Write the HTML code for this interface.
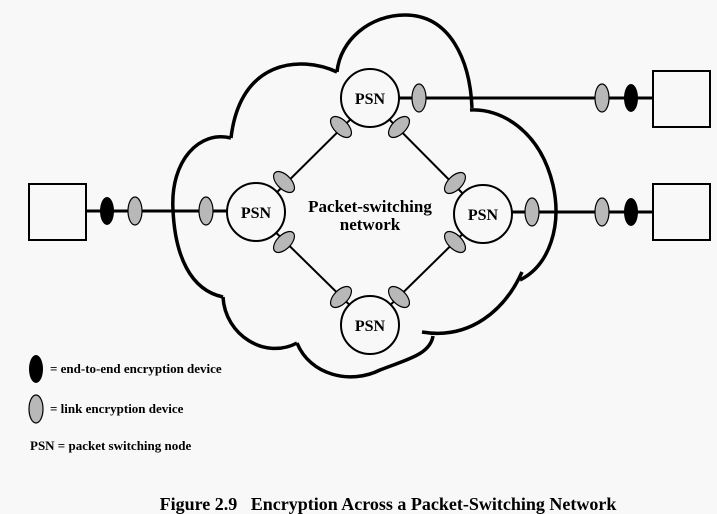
<!DOCTYPE html>
<html><head><style>
html,body{margin:0;padding:0;background:#f8f8f8;}
svg{display:block;}
text{font-family:"Liberation Serif",serif;font-weight:bold;fill:#000;}
</style></head><body>
<svg width="717" height="514" viewBox="0 0 717 514">
<rect width="717" height="514" fill="#f8f8f8"/>
<g fill="none" stroke="#000" stroke-width="3.5">
<path d="M231,138 C200,130 170,160 173,210 C175,255 190,290 223,297"/>
<path d="M223,297 C225,335 265,360 297,343"/>
<path d="M297,343 C310,375 350,385 380,370 C405,360 430,355 433,336"/>
<path d="M422,332 C470,340 505,310 522,272"/>
<path d="M520,280 C550,265 562,225 553,185 C540,130 500,108 470,110"/>
<path d="M472,108 C470,60 450,15 405,15 C370,15 340,40 337,72"/>
<path d="M337,72 C300,55 240,60 231,138"/>
</g>
<g stroke="#000" stroke-width="3">
<line x1="86" y1="211" x2="227" y2="211"/>
<line x1="399" y1="98" x2="653" y2="98"/>
<line x1="512" y1="212" x2="653" y2="212"/>
</g>
<g stroke="#000" stroke-width="2">
<line x1="370" y1="100" x2="256" y2="213"/>
<line x1="370" y1="100" x2="483" y2="214"/>
<line x1="256" y1="213" x2="370" y2="325"/>
<line x1="483" y1="214" x2="370" y2="325"/>
</g>
<g fill="#f8f8f8" stroke="#000" stroke-width="2">
<rect x="29" y="184" width="57" height="56"/>
<rect x="653" y="71" width="57" height="56"/>
<rect x="653" y="184" width="57" height="56"/>
</g>
<g fill="#b8b8b8" stroke="#000" stroke-width="1.2">
<ellipse cx="341" cy="127" rx="7" ry="13" transform="rotate(-45 341 127)"/>
<ellipse cx="399" cy="127" rx="7" ry="13" transform="rotate(45 399 127)"/>
<ellipse cx="284" cy="182" rx="7" ry="13" transform="rotate(-45 284 182)"/>
<ellipse cx="455" cy="183" rx="7" ry="13" transform="rotate(45 455 183)"/>
<ellipse cx="284" cy="242" rx="7" ry="13" transform="rotate(45 284 242)"/>
<ellipse cx="455" cy="242" rx="7" ry="13" transform="rotate(-45 455 242)"/>
<ellipse cx="341" cy="297" rx="7" ry="13" transform="rotate(45 341 297)"/>
<ellipse cx="399" cy="297" rx="7" ry="13" transform="rotate(-45 399 297)"/>
<ellipse cx="135" cy="211" rx="7" ry="14"/>
<ellipse cx="206" cy="211" rx="7" ry="14"/>
<ellipse cx="419" cy="98" rx="7" ry="14"/>
<ellipse cx="602" cy="98" rx="7" ry="14"/>
<ellipse cx="532" cy="212" rx="7" ry="14"/>
<ellipse cx="602" cy="212" rx="7" ry="14"/>
<ellipse cx="36" cy="409" rx="7" ry="14"/>
</g>
<g fill="#000">
<ellipse cx="107" cy="211" rx="7" ry="14"/>
<ellipse cx="631" cy="98" rx="7" ry="14"/>
<ellipse cx="631" cy="212" rx="7" ry="14"/>
<ellipse cx="36" cy="369" rx="7" ry="14"/>
</g>
<g fill="#f8f8f8" stroke="#000" stroke-width="2">
<circle cx="370" cy="98" r="29"/>
<circle cx="256" cy="212" r="29"/>
<circle cx="483" cy="214" r="29"/>
<circle cx="370" cy="325" r="29"/>
</g>
<g font-size="16" text-anchor="middle">
<text x="370" y="104">PSN</text>
<text x="256" y="218">PSN</text>
<text x="483" y="220">PSN</text>
<text x="370" y="331">PSN</text>
</g>
<g font-size="17" text-anchor="middle">
<text x="370" y="212">Packet-switching</text>
<text x="370" y="230">network</text>
</g>
<g font-size="13">
<text x="50" y="373">= end-to-end encryption device</text>
<text x="50" y="413">= link encryption device</text>
<text x="30" y="450">PSN = packet switching node</text>
</g>
<text x="388" y="510" font-size="18" text-anchor="middle" xml:space="preserve" style="white-space:pre">Figure 2.9   Encryption Across a Packet-Switching Network</text>
</svg>
</body></html>
